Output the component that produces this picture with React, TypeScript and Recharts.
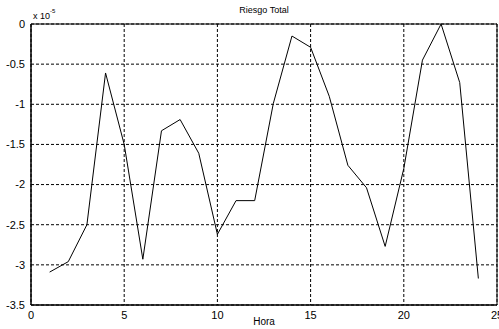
import React from 'react';
import { LineChart, Line, XAxis, YAxis, CartesianGrid, ReferenceArea } from 'recharts';

// Hora 1..24, riesgo in units of 1e-5
const horas = [1, 2, 3, 4, 5, 6, 7, 8, 9, 10, 11, 12, 13, 14, 15, 16, 17, 18, 19, 20, 21, 22, 23, 24];
const riesgo = [-3.09, -2.96, -2.5, -0.61, -1.5, -2.93, -1.33, -1.19, -1.61, -2.62, -2.2, -2.2, -0.99, -0.15, -0.29, -0.9, -1.76, -2.04, -2.77, -1.8, -0.45, 0, -0.73, -3.17];
const xTicks = [0, 5, 10, 15, 20, 25];
const yTicks = [0, -0.5, -1, -1.5, -2, -2.5, -3, -3.5];

const data = horas.map((h, i) => ({ hora: h, riesgo: riesgo[i] }));

const font = '"Liberation Sans", Arial, sans-serif';

const App: React.FC = () => {
  return (
    <div style={{ position: 'absolute', left: 0, top: 0, width: 499, height: 329, background: '#fff', fontFamily: font }}>
      <LineChart width={499} height={329} data={data} margin={{ top: 24, right: 2, bottom: 0, left: 0 }}>
        <CartesianGrid stroke="#000" strokeDasharray="3 2" strokeWidth={1} />
        <XAxis
          dataKey="hora"
          type="number"
          domain={[0, 25]}
          ticks={xTicks}
          height={24}
          tickLine={false}
          tickSize={4}
          axisLine={{ stroke: '#000' }}
          tick={{ fill: '#000', fontSize: 11, fontFamily: font }}
          interval={0}
        />
        <YAxis
          type="number"
          domain={[-3.5, 0]}
          ticks={yTicks}
          width={31}
          tickLine={false}
          tickSize={4}
          axisLine={{ stroke: '#000' }}
          tick={{ fill: '#000', fontSize: 11, fontFamily: font }}
          interval={0}
        />
        <ReferenceArea x1={0} x2={25} y1={-3.5} y2={0} fill="none" stroke="#000" strokeWidth={1} fillOpacity={0} />
        <Line type="linear" dataKey="riesgo" stroke="#000" strokeWidth={1} dot={false} isAnimationActive={false} />
      </LineChart>
      <div style={{ position: 'absolute', left: 0, width: 528, top: 5, textAlign: 'center', fontSize: 9 }}>Riesgo Total</div>
      <div style={{ position: 'absolute', left: 33, top: 11, fontSize: 9 }}>
        x 10<sup style={{ fontSize: 6, verticalAlign: 'top', position: 'relative', top: -3 }}>-5</sup>
      </div>
      <div style={{ position: 'absolute', left: 0, width: 528, top: 316, textAlign: 'center', fontSize: 10 }}>Hora</div>
    </div>
  );
};

export default App;
